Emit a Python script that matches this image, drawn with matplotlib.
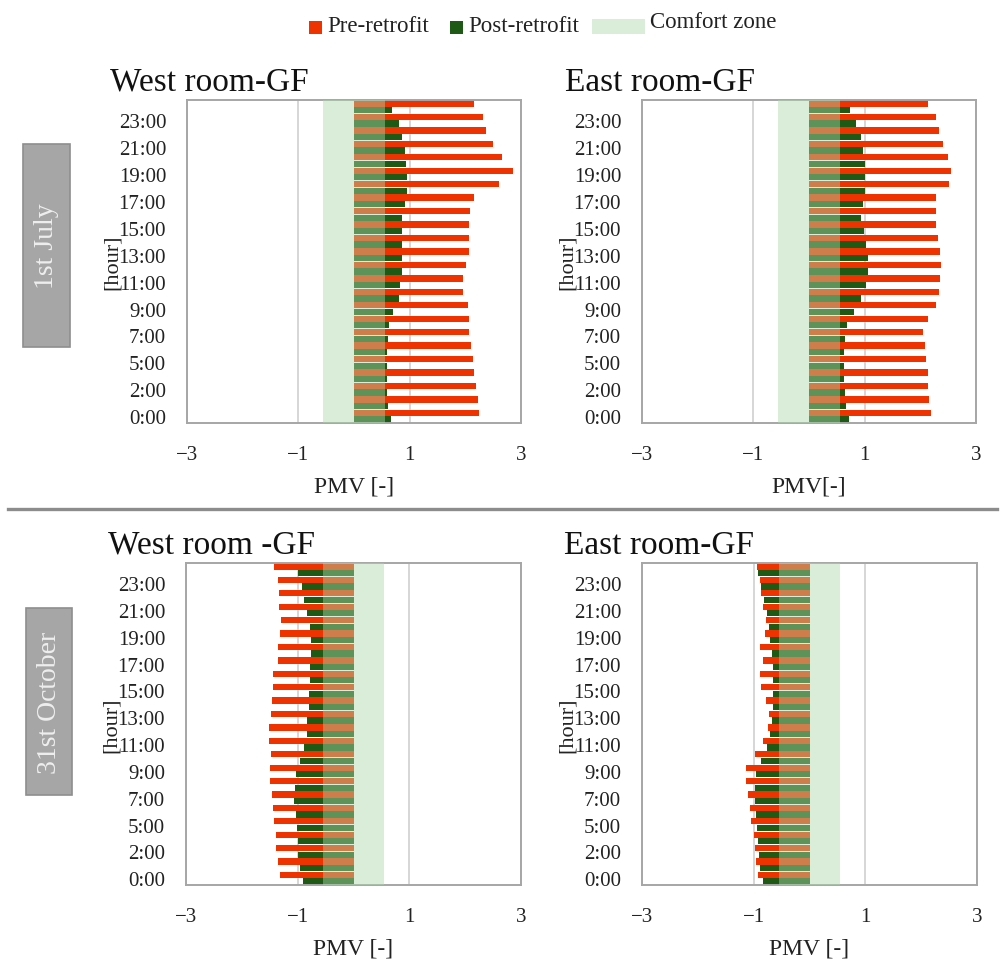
import matplotlib.pyplot as plt
from matplotlib.patches import Rectangle
from matplotlib.lines import Line2D

plt.rcParams['font.family'] = ['Liberation Serif', 'DejaVu Serif']

# hour categories (bottom -> top), Excel shows every second label
hours = ['0:00', '1:00', '2:00', '4:00', '5:00', '6:00', '7:00', '8:00', '9:00',
         '10:00', '11:00', '12:00', '13:00', '14:00', '15:00', '16:00', '17:00',
         '18:00', '19:00', '20:00', '21:00', '22:00', '23:00', '24:00']

# 1st July
west_jul_pre = [2.25, 2.23, 2.19, 2.16, 2.13, 2.11, 2.07, 2.07, 2.04, 1.96, 1.96, 2.01,
                2.07, 2.06, 2.06, 2.08, 2.16, 2.61, 2.86, 2.66, 2.49, 2.38, 2.31, 2.16]
west_jul_post = [0.66, 0.61, 0.59, 0.59, 0.59, 0.59, 0.61, 0.62, 0.70, 0.80, 0.83, 0.87,
                 0.87, 0.86, 0.86, 0.86, 0.92, 0.95, 0.95, 0.93, 0.92, 0.87, 0.80, 0.68]
east_jul_pre = [2.19, 2.16, 2.14, 2.13, 2.10, 2.08, 2.04, 2.13, 2.28, 2.34, 2.35, 2.38,
                2.35, 2.32, 2.29, 2.29, 2.28, 2.51, 2.55, 2.49, 2.41, 2.34, 2.28, 2.13]
east_jul_post = [0.72, 0.66, 0.64, 0.63, 0.63, 0.63, 0.64, 0.68, 0.80, 0.94, 1.02, 1.06,
                 1.06, 1.02, 0.98, 0.94, 0.97, 1.00, 1.00, 1.00, 0.97, 0.94, 0.84, 0.74]

# 31st October
west_oct_pre = [-1.32, -1.36, -1.38, -1.38, -1.42, -1.44, -1.46, -1.50, -1.50, -1.48, -1.52, -1.52,
                -1.48, -1.46, -1.44, -1.44, -1.36, -1.36, -1.32, -1.30, -1.34, -1.34, -1.36, -1.42]
west_oct_post = [-0.90, -0.95, -0.99, -0.99, -1.02, -1.03, -1.06, -1.04, -1.03, -0.95, -0.89, -0.84,
                 -0.83, -0.80, -0.80, -0.78, -0.78, -0.77, -0.77, -0.78, -0.84, -0.89, -0.93, -0.99]
east_oct_pre = [-0.92, -0.96, -0.98, -1.00, -1.04, -1.06, -1.10, -1.14, -1.14, -0.98, -0.84, -0.74,
                -0.72, -0.78, -0.86, -0.88, -0.84, -0.88, -0.80, -0.78, -0.84, -0.86, -0.88, -0.94]
east_oct_post = [-0.83, -0.88, -0.90, -0.92, -0.94, -0.96, -0.98, -0.98, -0.96, -0.86, -0.76, -0.71,
                 -0.67, -0.65, -0.65, -0.65, -0.66, -0.68, -0.70, -0.72, -0.77, -0.82, -0.86, -0.92]

comfort_zone = (-0.55, 0.55)

pre_color = '#EE3300'
post_color = '#1E5A16'
zone_color = '#ACD9AB'
zone_alpha = 0.45

panels = [
    ([0.187, 0.5593, 0.334, 0.3357], 'West room-GF', 'PMV [-]', west_jul_pre, west_jul_post),
    ([0.642, 0.5593, 0.334, 0.3357], 'East room-GF', 'PMV[-]', east_jul_pre, east_jul_post),
    ([0.186, 0.0790, 0.335, 0.3347], 'West room -GF', 'PMV [-]', west_oct_pre, west_oct_post),
    ([0.642, 0.0790, 0.335, 0.3347], 'East room-GF', 'PMV [-]', east_oct_pre, east_oct_post),
]

fig = plt.figure(figsize=(10, 9.62), dpi=100)

y = list(range(len(hours)))
for rect, title, xlab, pre, post in panels:
    ax = fig.add_axes(rect)
    ax.barh([i + 0.245 for i in y], pre, height=0.47, color=pre_color, zorder=2)
    ax.barh([i - 0.245 for i in y], post, height=0.47, color=post_color, zorder=2)
    ax.axvspan(comfort_zone[0], comfort_zone[1], color=zone_color, alpha=zone_alpha,
               lw=0, zorder=3)
    ax.set_xlim(-3, 3)
    ax.set_ylim(-0.5, len(hours) - 0.5)
    ax.set_xticks([-3, -1, 1, 3])
    ax.set_xticklabels(['\u22123', '\u22121', '1', '3'])
    ax.set_yticks(y[::2])
    ax.set_yticklabels(hours[::2])
    ax.tick_params(length=0, labelsize=15, colors='#222222')
    ax.tick_params(axis='x', pad=16)
    ax.tick_params(axis='y', pad=15)
    ax.grid(axis='x', color='#CFCFCF', lw=1.2, zorder=0)
    ax.set_axisbelow(True)
    for s in ax.spines.values():
        s.set_color('#A6A6A6')
        s.set_linewidth(1.4)
    ax.set_xlabel(xlab, fontsize=17, color='#222222')
    ax.xaxis.set_label_coords(0.5, -0.163)
    ax.set_ylabel('[hour]', fontsize=16, color='#222222')
    ax.yaxis.set_label_coords(-0.195, 0.5)
    ax.text(-0.232, 1.058, title, transform=ax.transAxes, fontsize=24,
            va='center', ha='left', color='#111111')

# date boxes on the left
for (x0, y0, w, h), label in [((23, 145, 47, 203), '1st July'),
                              ((26, 609, 46, 187), '31st October')]:
    fig.add_artist(Rectangle((x0 / 1000, 1 - (y0 + h) / 962), w / 1000, h / 962,
                             transform=fig.transFigure, facecolor='#A6A6A6',
                             edgecolor='#8E8E8E', lw=1.2))
    fig.text((x0 + w / 2) / 1000, 1 - (y0 + h / 2) / 962, label, rotation=90,
             ha='center', va='center', fontsize=20, color='#EEEEEE')

# separator line between the two days
fig.add_artist(Line2D([0.008, 0.997], [1 - 510 / 962] * 2, transform=fig.transFigure,
                      color='#8C8C8C', lw=2.4))

# legend across the top
legend_items = [(309, 13, pre_color, 1.0, 'Pre-retrofit', 27),
                (450, 13, post_color, 1.0, 'Post-retrofit', 27),
                (592, 53, zone_color, zone_alpha, 'Comfort zone', 22)]
for x0, w, col, a, label, ty in legend_items:
    h = 15 if w > 20 else 13
    fig.add_artist(Rectangle((x0 / 1000, 1 - 35 / 962), w / 1000, h / 962,
                             transform=fig.transFigure, facecolor=col, alpha=a, lw=0))
    fig.text((x0 + w + 5) / 1000, 1 - ty / 962, label, fontsize=16.5,
             ha='left', va='center', color='#222222')

fig.savefig('out.png', dpi=100)
